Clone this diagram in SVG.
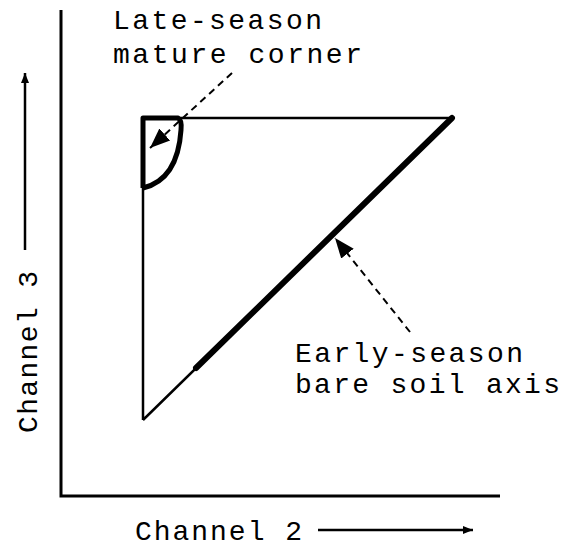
<svg xmlns="http://www.w3.org/2000/svg" width="564" height="549" viewBox="0 0 564 549">
<style>
.t{font-family:"Liberation Mono","Courier New",monospace;font-size:28px;fill:#000}
.thin{stroke:#000;stroke-width:2.5;fill:none}
.dash{stroke:#000;stroke-width:2;fill:none;stroke-dasharray:7,5}
</style>
<defs>
<marker id="ah" viewBox="0 0 10 10" refX="10" refY="5" markerWidth="14" markerHeight="10" markerUnits="userSpaceOnUse" orient="auto"><path d="M0,1L10,5L0,9z" fill="#000"/></marker>
<marker id="ah2" viewBox="0 0 10 10" refX="10" refY="5" markerWidth="20" markerHeight="20" markerUnits="userSpaceOnUse" orient="auto"><path d="M0,1L10,5L0,9z" fill="#000"/></marker>
</defs>
<g id="axes">
<path d="M61,10 L61,496 L500,496" stroke="#000" stroke-width="3" fill="none"/>
</g>
<g id="triangle">
<path d="M143,420 L143,118 L452,118 L143,420" class="thin"/>
<line x1="452" y1="118" x2="196" y2="368" stroke="#000" stroke-width="6" stroke-linecap="round"/>
</g>
<g id="corner">
<path d="M143,188 L143,118 L178,118 Q182,120 181,130 C179,160 168,182 143,188" stroke="#000" stroke-width="5" fill="none" stroke-linejoin="round"/>
</g>
<g id="connectors">
<line x1="232" y1="73" x2="150" y2="148" class="dash" marker-end="url(#ah2)"/>
<line x1="410" y1="332" x2="335" y2="238" class="dash" marker-end="url(#ah2)"/>
<line x1="25" y1="250" x2="25" y2="73" class="thin" stroke-width="2" marker-end="url(#ah)"/>
<line x1="318" y1="530" x2="473" y2="530" class="thin" stroke-width="2" marker-end="url(#ah)"/>
</g>
<g id="labels">
<text class="t" x="113" y="29" textLength="209" lengthAdjust="spacing">Late-season</text>
<text class="t" x="113" y="63" textLength="249" lengthAdjust="spacing">mature corner</text>
<text class="t" x="295" y="362" textLength="228" lengthAdjust="spacing">Early-season</text>
<text class="t" x="295" y="393" textLength="265" lengthAdjust="spacing">bare soil axis</text>
<text class="t" x="135" y="540" textLength="167" lengthAdjust="spacing">Channel 2</text>
<text class="t" transform="translate(37,433) rotate(-90)" x="0" y="0" textLength="162" lengthAdjust="spacing">Channel 3</text>
</g>
</svg>
